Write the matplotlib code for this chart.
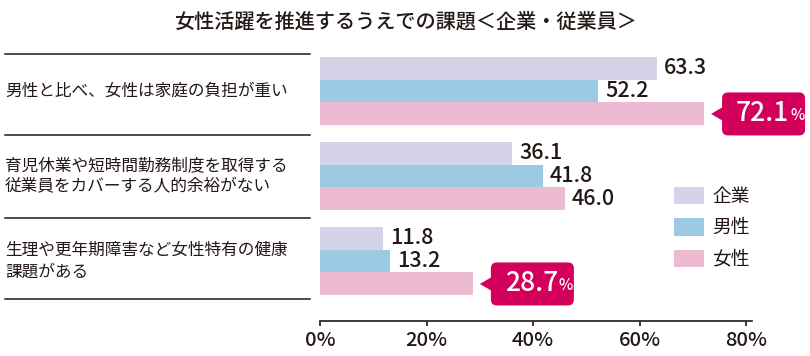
import matplotlib
matplotlib.use("Agg")
import matplotlib.pyplot as plt
import matplotlib.transforms as mtransforms
from matplotlib.patches import FancyBboxPatch, Polygon
from matplotlib.lines import Line2D

plt.rcParams['font.family'] = ['Noto Sans CJK JP', 'DejaVu Sans']

title = "女性活躍を推進するうえでの課題＜企業・従業員＞"
categories = [
    "男性と比べ、女性は家庭の負担が重い",
    "育児休業や短時間勤務制度を取得する\n従業員をカバーする人的余裕がない",
    "生理や更年期障害など女性特有の健康\n課題がある",
]
series_names = ["企業", "男性", "女性"]
kigyo = [63.3, 36.1, 11.8]
dansei = [52.2, 41.8, 13.2]
josei = [72.1, 46.0, 28.7]
highlight = [True, False, True]   # which 女性 values get a callout
xticks = [0, 20, 40, 60, 80]
xtick_labels = ["0%", "20%", "40%", "60%", "80%"]

colors = ["#d5d3e7", "#9bcae2", "#ecbbd1"]
dark = "#231815"
callout_color = "#d2005a"
numfont = ['Noto Sans CJK JP', 'DejaVu Sans']

W, H = 810, 356
fig = plt.figure(figsize=(W / 100, H / 100), dpi=100)
ax = fig.add_axes([320 / W, 35 / H, 432 / W, 267 / H])

bh = 0.27
series = [kigyo, dansei, josei]
bars = []
for k, vals in enumerate(series):
    ys = [i + (k - 1) * bh for i in range(len(categories))]
    b = ax.barh(ys, vals, height=bh, color=colors[k], label=series_names[k], linewidth=0)
    bars.append(b)

ax.set_xlim(0, 81.1)
ax.set_ylim(2.706, -0.435)
ax.set_xticks(xticks)
ax.set_xticklabels(xtick_labels, fontsize=14.5, family=numfont, weight='medium', color=dark)
ax.set_yticks([])
for s in ["top", "right", "left"]:
    ax.spines[s].set_visible(False)
ax.spines["bottom"].set_color(dark)
ax.spines["bottom"].set_linewidth(1.2)
ax.tick_params(axis="x", direction="out", length=3.5, width=1.2, color=dark, pad=4)

# value labels
for k, vals in enumerate(series):
    for i, v in enumerate(vals):
        if k == 2 and highlight[i]:
            continue
        y = i + (k - 1) * bh
        ax.annotate(f"{v:.1f}", (v, y), xytext=(5, 0), textcoords="offset points",
                    ha="left", va="center", fontsize=15.5, color=dark,
                    family=numfont, weight='medium')

# category labels and separators
blend = mtransforms.blended_transform_factory(fig.transFigure, ax.transData)
for i, c in enumerate(categories):
    fig.text(5 / W, i, c, transform=blend, ha="left", va="center", fontsize=12,
             color=dark, linespacing=1.35)
for y in [-0.435, 0.518, 1.494, 2.447]:
    fig.add_artist(Line2D([5 / W, 310 / W], [y, y], transform=blend, color=dark, lw=1.1))

# title
fig.text(405 / W, 1 - 22 / H, title, ha="center", va="center", fontsize=14.5,
         color=dark, weight='medium')

# callouts
fig.canvas.draw()
ident = mtransforms.IdentityTransform()
for i, v in enumerate(josei):
    if not highlight[i]:
        continue
    y = i + bh
    px, py = ax.transData.transform((v, y))
    tipx = px + 7
    bx0 = tipx + 11
    bw, bhp = 83, 43
    box = FancyBboxPatch((bx0, py - bhp / 2), bw, bhp,
                         boxstyle="round,pad=0,rounding_size=6",
                         fc=callout_color, ec="none", transform=ident)
    fig.add_artist(box)
    tri = Polygon([(tipx, py), (bx0 + 1, py + 7), (bx0 + 1, py - 7)], closed=True,
                  fc=callout_color, ec="none", transform=ident)
    fig.add_artist(tri)
    fig.text((bx0 + 67) / W, py / H, f"{v:.1f}", ha="right", va="center",
             fontsize=19, color="white", family=numfont, weight='medium')
    fig.text((bx0 + 68) / W, (py - 2) / H, "%", ha="left", va="center",
             fontsize=11, color="white", family=numfont, weight='medium')

leg = fig.legend(handles=bars, labels=series_names, loc="upper left",
                 bbox_to_anchor=(674 / W, 1 - 186 / H), frameon=False, borderpad=0,
                 fontsize=13.5, handlelength=1.6, handleheight=1.05,
                 handletextpad=0.45, labelspacing=0.55, borderaxespad=0)
for t in leg.get_texts():
    t.set_color(dark)

fig.savefig("out.png", dpi=100)
